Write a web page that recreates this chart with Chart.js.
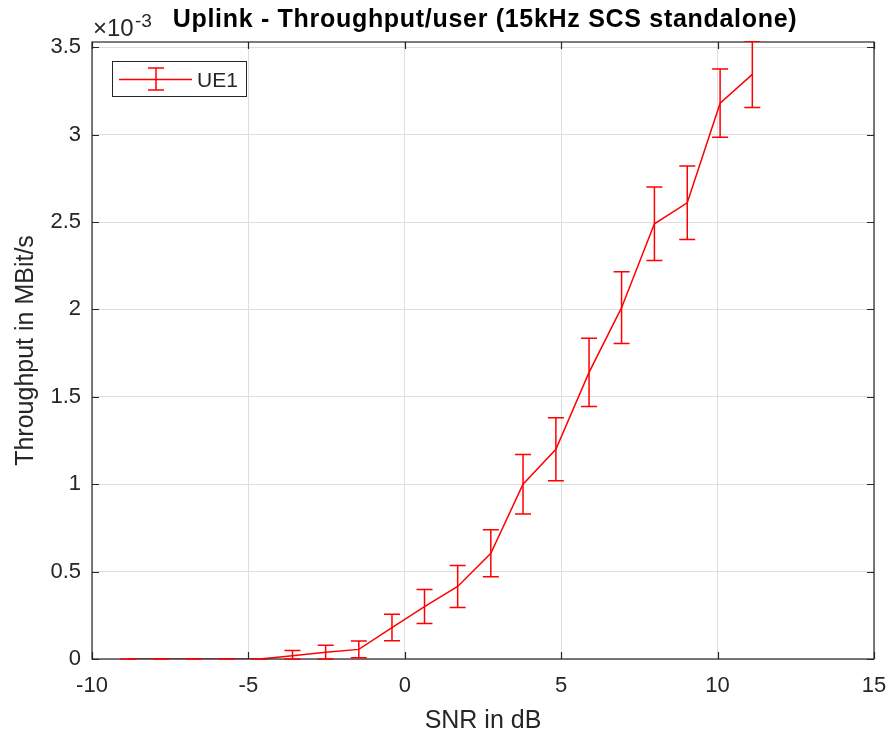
<!DOCTYPE html>
<html>
<head>
<meta charset="utf-8">
<title>Uplink - Throughput/user</title>
<script src="https://cdn.jsdelivr.net/npm/chart.js@4.4.1/dist/chart.umd.min.js"></script>
<style>
  html, body { margin: 0; padding: 0; background: #fff; }
  canvas { display: block; }
</style>
</head>
<body>
<canvas id="chart" width="890" height="737"></canvas>
<script>
// SNR values (dB)
const snr = [-8.84, -7.79, -6.74, -5.69, -4.64, -3.59, -2.53, -1.47, -0.41, 0.63,
             1.69, 2.75, 3.78, 4.83, 5.89, 6.93, 7.98, 9.03, 10.08, 11.11];
// throughput, in units of 1e-3 MBit/s
const throughput = [0, 0, 0, 0, 0, 0.018, 0.038, 0.055, 0.18, 0.30,
                    0.415, 0.605, 1.0, 1.2, 1.64, 2.01, 2.49, 2.61, 3.18, 3.345];
// half-height of the error bars
const errors = [0, 0, 0, 0, 0, 0.03, 0.04, 0.048, 0.076, 0.097,
                0.12, 0.135, 0.17, 0.18, 0.195, 0.205, 0.21, 0.21, 0.195, 0.19];
const xTicks = [-10, -5, 0, 5, 10, 15];
const yTicks = [0, 0.5, 1, 1.5, 2, 2.5, 3, 3.5];

const FONT = "'Liberation Sans', Arial, sans-serif";
const TEXT = '#262626';
const RED = '#ff0000';

// box, inner ticks, error bars, labels and legend
const decorPlugin = {
    id: 'decor',
    afterDraw(chart) {
        const ctx = chart.ctx;
        const xs = chart.scales.x, ys = chart.scales.y;
        const a = chart.chartArea;
        ctx.save();

        // axes box
        ctx.strokeStyle = TEXT;
        ctx.lineWidth = 1.2;
        ctx.strokeRect(a.left, a.top, a.right - a.left, a.bottom - a.top);

        // inner ticks on every side
        ctx.beginPath();
        xTicks.forEach(v => {
            const px = Math.round(xs.getPixelForValue(v)) + 0.5;
            ctx.moveTo(px, a.bottom); ctx.lineTo(px, a.bottom - 7);
            ctx.moveTo(px, a.top); ctx.lineTo(px, a.top + 7);
        });
        yTicks.forEach(v => {
            const py = Math.round(ys.getPixelForValue(v)) + 0.5;
            ctx.moveTo(a.left, py); ctx.lineTo(a.left + 7, py);
            ctx.moveTo(a.right, py); ctx.lineTo(a.right - 7, py);
        });
        ctx.stroke();

        // error bars (clipped to the plot area)
        ctx.save();
        ctx.beginPath();
        ctx.rect(a.left, a.top - 1, a.right - a.left, a.bottom - a.top + 2);
        ctx.clip();
        ctx.strokeStyle = RED;
        ctx.lineWidth = 1.5;
        snr.forEach((x, i) => {
            const px = xs.getPixelForValue(x);
            const top = ys.getPixelForValue(throughput[i] + errors[i]);
            const bot = ys.getPixelForValue(Math.max(0, throughput[i] - errors[i]));
            ctx.beginPath();
            ctx.moveTo(px, top); ctx.lineTo(px, bot);
            ctx.moveTo(px - 8, top); ctx.lineTo(px + 8, top);
            ctx.moveTo(px - 8, bot); ctx.lineTo(px + 8, bot);
            ctx.stroke();
        });
        ctx.restore();

        // title
        ctx.fillStyle = '#000';
        ctx.font = 'bold 25px ' + FONT;
        ctx.textAlign = 'center';
        ctx.textBaseline = 'alphabetic';
        ctx.letterSpacing = '0.7px';
        ctx.fillText('Uplink - Throughput/user (15kHz SCS standalone)', (a.left + a.right) / 2 + 2, 27);
        ctx.letterSpacing = '0px';

        // exponent label
        ctx.fillStyle = TEXT;
        ctx.textAlign = 'left';
        ctx.font = '24px ' + FONT;
        ctx.fillText('\u00d710', a.left + 1, 36);
        ctx.font = '19px ' + FONT;
        ctx.fillText('-3', a.left + 43, 27);

        // axis labels
        ctx.font = '25px ' + FONT;
        ctx.textAlign = 'center';
        ctx.fillText('SNR in dB', (a.left + a.right) / 2, 728);
        ctx.save();
        ctx.translate(33, (a.top + a.bottom) / 2);
        ctx.rotate(-Math.PI / 2);
        ctx.fillText('Throughput in MBit/s', 0, 0);
        ctx.restore();

        // legend
        const lx = 112.5, ly = 61.5, lw = 134, lh = 35;
        ctx.fillStyle = '#fff';
        ctx.fillRect(lx, ly, lw, lh);
        ctx.strokeStyle = TEXT;
        ctx.lineWidth = 1;
        ctx.strokeRect(lx, ly, lw, lh);
        ctx.strokeStyle = RED;
        ctx.lineWidth = 1.5;
        ctx.beginPath();
        ctx.moveTo(119, 79.5); ctx.lineTo(192, 79.5);
        ctx.moveTo(156, 68); ctx.lineTo(156, 90);
        ctx.moveTo(148, 68); ctx.lineTo(164, 68);
        ctx.moveTo(148, 90); ctx.lineTo(164, 90);
        ctx.stroke();
        ctx.fillStyle = TEXT;
        ctx.font = '21px ' + FONT;
        ctx.textAlign = 'left';
        ctx.fillText(chart.data.datasets[0].label, 197, 87);

        ctx.restore();
    }
};

const ctx = document.getElementById('chart').getContext('2d');
new Chart(ctx, {
    type: 'line',
    data: {
        datasets: [{
            label: 'UE1',
            data: snr.map((x, i) => ({ x: x, y: throughput[i] })),
            borderColor: RED,
            borderWidth: 1.5,
            pointRadius: 0,
            tension: 0,
            fill: false
        }]
    },
    options: {
        responsive: false,
        animation: false,
        layout: { padding: { left: 0, top: 42, right: 16, bottom: 0 } },
        plugins: {
            legend: { display: false },
            title: { display: false },
            tooltip: { enabled: false }
        },
        scales: {
            x: {
                type: 'linear',
                min: -10,
                max: 15,
                afterFit: s => { s.height = 78; s.paddingLeft = 0; s.paddingRight = 0; },
                afterBuildTicks: s => { s.ticks = xTicks.map(v => ({ value: v })); },
                ticks: {
                    color: TEXT,
                    font: { family: FONT, size: 22 },
                    padding: 14,
                    maxRotation: 0,
                    callback: v => String(v)
                },
                grid: { color: '#dedede', lineWidth: 1, drawTicks: false },
                border: { display: false }
            },
            y: {
                min: 0,
                max: 3.53,
                afterFit: s => { s.width = 92; s.paddingTop = 0; s.paddingBottom = 0; },
                afterBuildTicks: s => { s.ticks = yTicks.map(v => ({ value: v })); },
                ticks: {
                    color: TEXT,
                    font: { family: FONT, size: 22 },
                    padding: 11,
                    callback: v => String(v)
                },
                grid: { color: '#dedede', lineWidth: 1, drawTicks: false },
                border: { display: false }
            }
        }
    },
    plugins: [decorPlugin]
});
</script>
</body>
</html>
